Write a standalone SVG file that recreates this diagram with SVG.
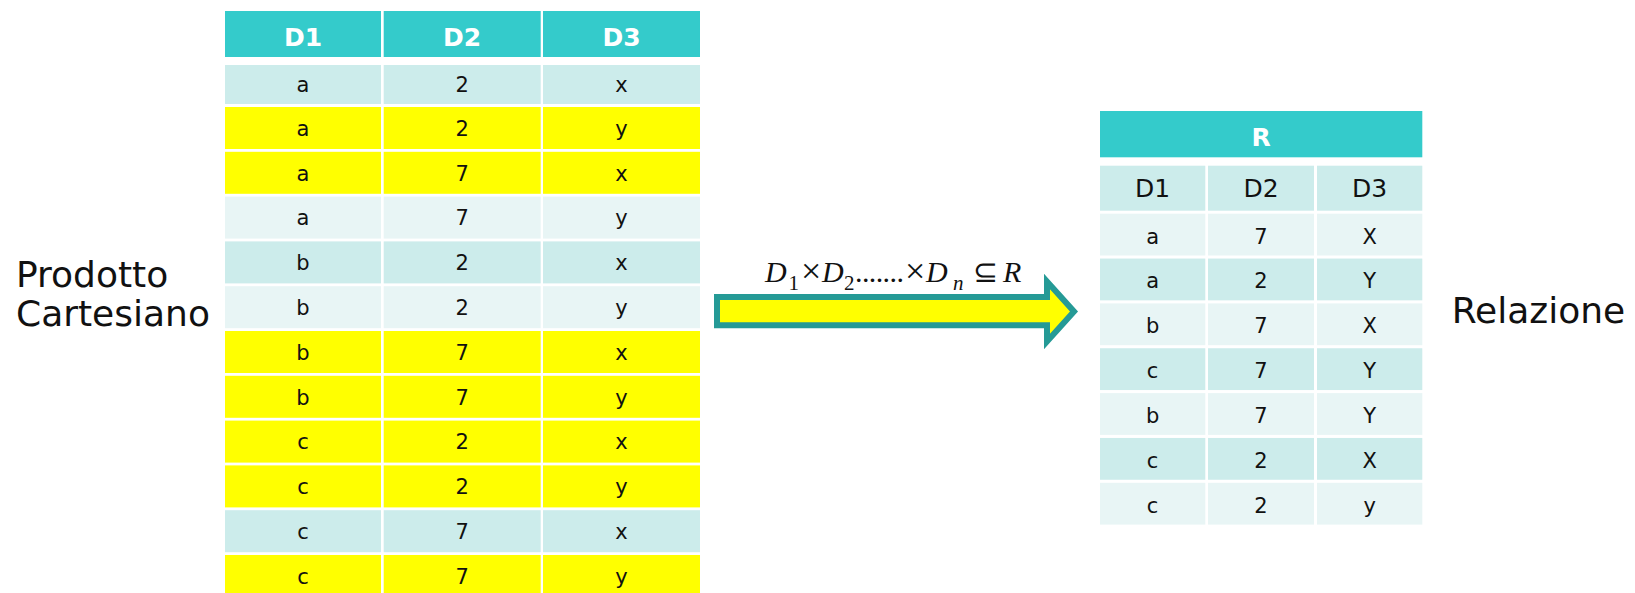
<svg xmlns="http://www.w3.org/2000/svg" width="1635" height="593" viewBox="0 0 1635 593">
<style>
.hd{fill:#34CBCB}
.dk{fill:#CCECEB}
.lt{fill:#E8F5F5}
.yl{fill:#FFFF00}
.ht{font-family:"DejaVu Sans",Verdana,sans-serif;font-weight:bold;font-size:25px;fill:#FFFFFF;text-anchor:middle}
.ct{font-family:"DejaVu Sans",Verdana,sans-serif;font-size:21px;fill:#111111;text-anchor:middle}
.rt{font-family:"DejaVu Sans",Verdana,sans-serif;font-size:21px;fill:#111111;text-anchor:middle}
.rh{font-family:"DejaVu Sans",Verdana,sans-serif;font-size:25px;fill:#111111;text-anchor:middle}
.lb{font-family:"DejaVu Sans",Verdana,sans-serif;font-size:36px;fill:#111111}
.fm{font-family:"Liberation Serif","Times New Roman",serif;font-size:30px;fill:#111111}
.fi{font-style:italic}
.fs{font-size:21px}
.fx{font-size:36px}
</style>
<rect width="1635" height="593" fill="#FFFFFF"/>
<g id="table-cartesian">
<rect class="hd" x="225" y="11" width="156" height="46"/>
<rect class="hd" x="383.7" y="11" width="157" height="46"/>
<rect class="hd" x="543" y="11" width="157" height="46"/>
<text class="ht" x="303" y="45.5">D1</text>
<text class="ht" x="462.2" y="45.5">D2</text>
<text class="ht" x="621.5" y="45.5">D3</text>
<g id="lrow1"><rect class="dk" x="225" y="65" width="156" height="39"/><rect class="dk" x="383.7" y="65" width="157" height="39"/><rect class="dk" x="543" y="65" width="157" height="39"/><text class="ct" x="303" y="92">a</text><text class="ct" x="462.2" y="92">2</text><text class="ct" x="621.5" y="92">x</text></g>
<g id="lrow2"><rect class="yl" x="225" y="107" width="156" height="42"/><rect class="yl" x="383.7" y="107" width="157" height="42"/><rect class="yl" x="543" y="107" width="157" height="42"/><text class="ct" x="303" y="135.8">a</text><text class="ct" x="462.2" y="135.8">2</text><text class="ct" x="621.5" y="135.8">y</text></g>
<g id="lrow3"><rect class="yl" x="225" y="151.8" width="156" height="42"/><rect class="yl" x="383.7" y="151.8" width="157" height="42"/><rect class="yl" x="543" y="151.8" width="157" height="42"/><text class="ct" x="303" y="180.6">a</text><text class="ct" x="462.2" y="180.6">7</text><text class="ct" x="621.5" y="180.6">x</text></g>
<g id="lrow4"><rect class="lt" x="225" y="196.6" width="156" height="42"/><rect class="lt" x="383.7" y="196.6" width="157" height="42"/><rect class="lt" x="543" y="196.6" width="157" height="42"/><text class="ct" x="303" y="225.4">a</text><text class="ct" x="462.2" y="225.4">7</text><text class="ct" x="621.5" y="225.4">y</text></g>
<g id="lrow5"><rect class="dk" x="225" y="241.4" width="156" height="42"/><rect class="dk" x="383.7" y="241.4" width="157" height="42"/><rect class="dk" x="543" y="241.4" width="157" height="42"/><text class="ct" x="303" y="270.2">b</text><text class="ct" x="462.2" y="270.2">2</text><text class="ct" x="621.5" y="270.2">x</text></g>
<g id="lrow6"><rect class="lt" x="225" y="286.2" width="156" height="42"/><rect class="lt" x="383.7" y="286.2" width="157" height="42"/><rect class="lt" x="543" y="286.2" width="157" height="42"/><text class="ct" x="303" y="315">b</text><text class="ct" x="462.2" y="315">2</text><text class="ct" x="621.5" y="315">y</text></g>
<g id="lrow7"><rect class="yl" x="225" y="331" width="156" height="42"/><rect class="yl" x="383.7" y="331" width="157" height="42"/><rect class="yl" x="543" y="331" width="157" height="42"/><text class="ct" x="303" y="359.8">b</text><text class="ct" x="462.2" y="359.8">7</text><text class="ct" x="621.5" y="359.8">x</text></g>
<g id="lrow8"><rect class="yl" x="225" y="375.8" width="156" height="42"/><rect class="yl" x="383.7" y="375.8" width="157" height="42"/><rect class="yl" x="543" y="375.8" width="157" height="42"/><text class="ct" x="303" y="404.6">b</text><text class="ct" x="462.2" y="404.6">7</text><text class="ct" x="621.5" y="404.6">y</text></g>
<g id="lrow9"><rect class="yl" x="225" y="420.6" width="156" height="42"/><rect class="yl" x="383.7" y="420.6" width="157" height="42"/><rect class="yl" x="543" y="420.6" width="157" height="42"/><text class="ct" x="303" y="449.4">c</text><text class="ct" x="462.2" y="449.4">2</text><text class="ct" x="621.5" y="449.4">x</text></g>
<g id="lrow10"><rect class="yl" x="225" y="465.4" width="156" height="42"/><rect class="yl" x="383.7" y="465.4" width="157" height="42"/><rect class="yl" x="543" y="465.4" width="157" height="42"/><text class="ct" x="303" y="494.2">c</text><text class="ct" x="462.2" y="494.2">2</text><text class="ct" x="621.5" y="494.2">y</text></g>
<g id="lrow11"><rect class="dk" x="225" y="510.2" width="156" height="42"/><rect class="dk" x="383.7" y="510.2" width="157" height="42"/><rect class="dk" x="543" y="510.2" width="157" height="42"/><text class="ct" x="303" y="539">c</text><text class="ct" x="462.2" y="539">7</text><text class="ct" x="621.5" y="539">x</text></g>
<g id="lrow12"><rect class="yl" x="225" y="555" width="156" height="42"/><rect class="yl" x="383.7" y="555" width="157" height="42"/><rect class="yl" x="543" y="555" width="157" height="42"/><text class="ct" x="303" y="583.8">c</text><text class="ct" x="462.2" y="583.8">7</text><text class="ct" x="621.5" y="583.8">y</text></g>
</g>
<g id="table-relation">
<rect class="hd" x="1100" y="111" width="322.3" height="46.3"/>
<text class="ht" x="1261.2" y="145.7">R</text>
<g id="rrow0"><rect class="dk" x="1100" y="165.7" width="105.3" height="45"/><rect class="dk" x="1208" y="165.7" width="106" height="45"/><rect class="dk" x="1317" y="165.7" width="105.3" height="45"/><text class="rh" x="1152.6" y="197.3">D1</text><text class="rh" x="1261" y="197.3">D2</text><text class="rh" x="1369.6" y="197.3">D3</text></g>
<g id="rrow1"><rect class="lt" x="1100" y="213.7" width="105.3" height="41.8"/><rect class="lt" x="1208" y="213.7" width="106" height="41.8"/><rect class="lt" x="1317" y="213.7" width="105.3" height="41.8"/><text class="rt" x="1152.6" y="243.5">a</text><text class="rt" x="1261" y="243.5">7</text><text class="rt" x="1369.6" y="243.5">X</text></g>
<g id="rrow2"><rect class="dk" x="1100" y="258.55" width="105.3" height="41.8"/><rect class="dk" x="1208" y="258.55" width="106" height="41.8"/><rect class="dk" x="1317" y="258.55" width="105.3" height="41.8"/><text class="rt" x="1152.6" y="288.35">a</text><text class="rt" x="1261" y="288.35">2</text><text class="rt" x="1369.6" y="288.35">Y</text></g>
<g id="rrow3"><rect class="lt" x="1100" y="303.4" width="105.3" height="41.8"/><rect class="lt" x="1208" y="303.4" width="106" height="41.8"/><rect class="lt" x="1317" y="303.4" width="105.3" height="41.8"/><text class="rt" x="1152.6" y="333.2">b</text><text class="rt" x="1261" y="333.2">7</text><text class="rt" x="1369.6" y="333.2">X</text></g>
<g id="rrow4"><rect class="dk" x="1100" y="348.25" width="105.3" height="41.8"/><rect class="dk" x="1208" y="348.25" width="106" height="41.8"/><rect class="dk" x="1317" y="348.25" width="105.3" height="41.8"/><text class="rt" x="1152.6" y="378.05">c</text><text class="rt" x="1261" y="378.05">7</text><text class="rt" x="1369.6" y="378.05">Y</text></g>
<g id="rrow5"><rect class="lt" x="1100" y="393.1" width="105.3" height="41.8"/><rect class="lt" x="1208" y="393.1" width="106" height="41.8"/><rect class="lt" x="1317" y="393.1" width="105.3" height="41.8"/><text class="rt" x="1152.6" y="422.9">b</text><text class="rt" x="1261" y="422.9">7</text><text class="rt" x="1369.6" y="422.9">Y</text></g>
<g id="rrow6"><rect class="dk" x="1100" y="437.95" width="105.3" height="41.8"/><rect class="dk" x="1208" y="437.95" width="106" height="41.8"/><rect class="dk" x="1317" y="437.95" width="105.3" height="41.8"/><text class="rt" x="1152.6" y="467.75">c</text><text class="rt" x="1261" y="467.75">2</text><text class="rt" x="1369.6" y="467.75">X</text></g>
<g id="rrow7"><rect class="lt" x="1100" y="482.8" width="105.3" height="41.8"/><rect class="lt" x="1208" y="482.8" width="106" height="41.8"/><rect class="lt" x="1317" y="482.8" width="105.3" height="41.8"/><text class="rt" x="1152.6" y="512.6">c</text><text class="rt" x="1261" y="512.6">2</text><text class="rt" x="1369.6" y="512.6">y</text></g>
</g>
<g id="label-cartesian">
<text class="lb" x="16" y="286.7">Prodotto</text>
<text class="lb" x="16" y="326">Cartesiano</text>
</g>
<g id="label-relation">
<text class="lb" x="1451.7" y="323.3">Relazione</text>
</g>
<g id="connectors">
<polygon points="717,297 1047,297 1047,281.5 1074,311.5 1047,341.5 1047,325.3 717,325.3" fill="#FFFF00" stroke="#259A96" stroke-width="6" stroke-linejoin="miter" stroke-miterlimit="10"/>
</g>
<g id="formula" class="fm">
<text class="fi" x="765" y="282">D</text>
<text class="fs" x="788.5" y="290">1</text>
<text class="fx" x="801" y="283">×</text>
<text class="fi" x="822" y="282">D</text>
<text class="fs" x="844" y="290">2</text>
<text x="855" y="282" letter-spacing="-0.6">.......</text>
<text class="fx" x="905" y="283">×</text>
<text class="fi" x="926" y="282">D</text>
<text class="fi fs" x="953" y="290">n</text>
<text x="973" y="282">⊆</text>
<text class="fi" x="1003" y="282">R</text>
</g>
</svg>
